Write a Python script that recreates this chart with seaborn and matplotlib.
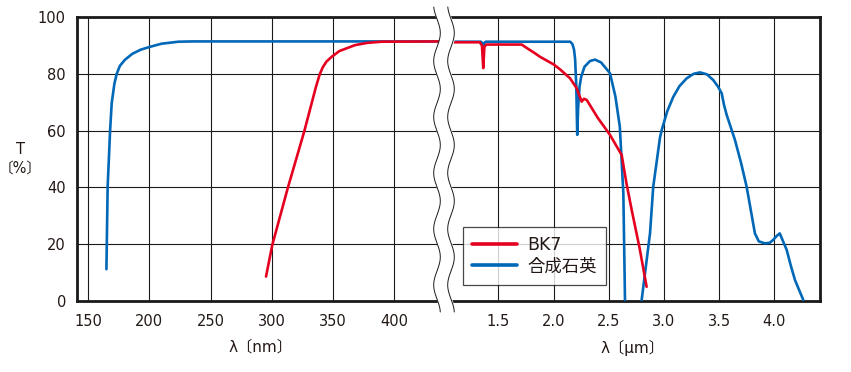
import numpy as np
import pandas as pd
import matplotlib
matplotlib.use("Agg")
import matplotlib.pyplot as plt
import seaborn as sns

# --- data ---
# ultraviolet / visible part (nm)
silica_uv_lam = [165, 166, 168, 169.3, 171.5, 173.4, 176, 180, 186, 193, 200.6, 210, 223.7, 235, 440]
silica_uv_T = [11.2, 40.2, 60.0, 69.6, 76.5, 80.0, 82.8, 84.9, 87.0, 88.5, 89.5, 90.6, 91.3, 91.4, 91.4]

bk7_uv_lam = [295.2, 300.3, 312.9, 326.5, 336, 339, 341.5, 344.5, 348.8, 355, 367.8, 378, 389.5, 440]
bk7_uv_T = [8.6, 19.7, 39.7, 59.9, 75.5, 79.8, 82.3, 84.3, 86.0, 88.0, 90.1, 90.9, 91.3, 91.4]

# infrared part (um), split into segments where the curve touches 0
silica_ir_lam = [1.0, 1.34, 1.355, 1.362, 1.37, 1.385, 2.15, 2.17, 2.185, 2.195, 2.205, 2.214,
                 2.222, 2.235, 2.25, 2.28, 2.33, 2.375, 2.43, 2.511, 2.56, 2.60, 2.632, 2.647]
silica_ir_T = [91.3, 91.3, 90.8, 89.5, 90.8, 91.3, 91.3, 90.5, 88.5, 85.0, 76.0, 58.5,
               68.0, 75.5, 79.0, 82.5, 84.5, 85.0, 84.0, 80.2, 72.0, 61.4, 38.0, 0.3]
silica_ir2_lam = [2.798, 2.874, 2.903, 2.964, 2.98, 3.03, 3.085, 3.14, 3.206, 3.27, 3.327, 3.39, 3.447,
                  3.49, 3.524, 3.545, 3.569, 3.644, 3.70, 3.75, 3.825, 3.86, 3.915, 3.96, 3.99,
                  4.025, 4.05, 4.075, 4.113, 4.15, 4.188, 4.263]
silica_ir2_T = [0.3, 23.9, 40.2, 57.5, 60.2, 66.8, 71.9, 75.6, 78.4, 80.0, 80.5, 79.8, 77.8,
                75.5, 73.1, 69.0, 65.5, 56.7, 48.5, 40.2, 23.8, 21.0, 20.3, 20.5, 21.5,
                23.0, 23.8, 21.5, 18.0, 12.5, 7.4, 0.4]

bk7_ir_lam = [1.0, 1.33, 1.35, 1.362, 1.372, 1.39, 1.71, 1.76, 1.82, 1.876, 2.0, 2.06, 2.149,
              2.209, 2.254, 2.275, 2.30, 2.40, 2.511, 2.617, 2.66, 2.708, 2.78, 2.843]
bk7_ir_T = [91.1, 91.1, 90.0, 82.0, 89.5, 90.3, 90.3, 89.0, 87.5, 86.0, 83.3, 81.5, 78.4,
            74.9, 70.2, 71.2, 70.8, 64.5, 58.5, 51.4, 41.5, 32.0, 18.5, 5.0]

labels = ["BK7", "合成石英"]
colors = {"BK7": "#e60020", "合成石英": "#0068b7"}

uv_ticks = [150, 200, 250, 300, 350, 400]
ir_ticks = [1.5, 2.0, 2.5, 3.0, 3.5, 4.0]
y_ticks = [0, 20, 40, 60, 80, 100]


def frame(lam, T, name, seg):
    return pd.DataFrame({"lam": lam, "T": T, "material": name, "seg": seg})


uv = pd.concat([frame(silica_uv_lam, silica_uv_T, "合成石英", 0),
                frame(bk7_uv_lam, bk7_uv_T, "BK7", 1)])
ir = pd.concat([frame(silica_ir_lam, silica_ir_T, "合成石英", 0),
                frame(silica_ir2_lam, silica_ir2_T, "合成石英", 1),
                frame(bk7_ir_lam, bk7_ir_T, "BK7", 2)])

sns.set_theme(style="white")
plt.rcParams["font.family"] = ["DejaVu Sans", "Noto Sans CJK JP"]
ink = "#231815"

W, H = 851, 372
fig = plt.figure(figsize=(W / 100, H / 100), dpi=100)
x_split = 444
ax1 = fig.add_axes([77 / W, 1 - 301 / H, (x_split - 77) / W, 284 / H])
ax2 = fig.add_axes([x_split / W, 1 - 301 / H, (820 - x_split) / W, 284 / H])

for ax, df, ticks in [(ax1, uv, uv_ticks), (ax2, ir, ir_ticks)]:
    sns.lineplot(data=df, x="lam", y="T", hue="material", units="seg", estimator=None,
                 hue_order=["合成石英", "BK7"], palette=colors, linewidth=1.9, sort=False,
                 legend=False, ax=ax, zorder=3)
    ax.set_ylim(0, 100)
    ax.set_xticks(ticks)
    ax.set_yticks(y_ticks)
    ax.grid(True, color="#1a1a1a", linewidth=0.8)
    ax.tick_params(axis="x", length=0, pad=9, labelsize=10.5, colors=ink)
    ax.tick_params(axis="y", length=0, pad=8, labelsize=10.5, colors=ink)
    for s in ax.spines.values():
        s.set_color("#1a1a1a")
        s.set_linewidth(2.0)
    ax.set_ylabel("")

ax1.set_xlim(141.0, 440.4)
ax2.set_xlim(1.006, 4.415)
ax1.spines["right"].set_visible(False)
ax2.spines["left"].set_visible(False)
ax2.tick_params(labelleft=False)
ax2.set_xticklabels([f"{t:.1f}" for t in ir_ticks])

ax1.set_xlabel("λ〔nm〕", fontsize=11, color=ink, labelpad=8)
ax2.set_xlabel("λ〔μm〕", fontsize=11, color=ink, labelpad=8)
fig.text(20 / W, 1 - 150 / H, "T", ha="center", va="center", fontsize=10.5, color=ink)
fig.text(20 / W, 1 - 168 / H, "〔%〕", ha="center", va="center", fontsize=10.5, color=ink)

handles = [plt.Line2D([], [], color=colors[n], linewidth=2.6) for n in labels]
leg = ax2.legend(handles, labels, loc="lower left", bbox_to_anchor=(0.05, 0.056),
                 borderaxespad=0, frameon=True, fancybox=False, fontsize=12.5,
                 handlelength=2.6, handletextpad=0.55, borderpad=0.55, labelspacing=0.2)
leg.get_frame().set_edgecolor("#1a1a1a")
leg.get_frame().set_linewidth(0.9)
for t in leg.get_texts():
    t.set_color(ink)

# wavy axis break drawn over everything in pixel coordinates
ov = fig.add_axes([0, 0, 1, 1], zorder=10)
ov.set_xlim(0, W)
ov.set_ylim(H, 0)
ov.axis("off")
ov.patch.set_alpha(0)
yy = np.linspace(7, 312, 400)
wave = 3.3 * np.sin(2 * np.pi * (yy - 19) / 56)
ov.fill_betweenx(yy, 437 + wave, 451 + wave, color="white", zorder=1)
ov.plot(437 + wave, yy, color="#1a1a1a", linewidth=0.7, zorder=2)
ov.plot(451 + wave, yy, color="#1a1a1a", linewidth=0.7, zorder=2)

fig.savefig("out.png", dpi=100)
